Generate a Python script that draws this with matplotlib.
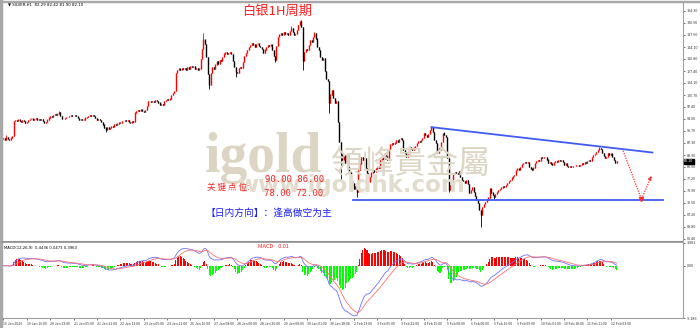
import matplotlib
matplotlib.use('Agg')
import matplotlib.pyplot as plt
import numpy as np
import pandas as pd

plt.rcParams['font.family'] = ['Noto Sans CJK SC', 'DejaVu Sans']

# ---------------- data ----------------
closes = [
    88.6, 88.1, 89.0, 88.4, 88.0, 88.8, 89.2, 93.5, 93.7, 93.3,
    93.8, 93.5, 93.2, 93.6, 93.3, 93.0, 93.2, 93.6, 93.9, 94.1,
    93.7, 93.9, 94.2, 93.8, 94.0, 93.6, 93.9, 93.4, 93.0, 93.2,
    93.8, 94.4, 94.8, 94.6, 95.0, 95.3, 95.1, 95.5, 95.9, 94.8,
    94.0, 93.9, 94.3, 94.6, 94.5, 94.9, 95.0, 94.7, 94.9, 95.1,
    94.8, 94.2, 93.7, 93.9, 93.6, 93.8, 94.4, 94.6, 94.9, 95.0,
    94.7, 95.0, 94.8, 94.2, 93.7, 93.9, 93.6, 93.2, 92.4, 91.6,
    90.9, 91.8, 91.2, 91.5, 92.0, 91.8, 92.5, 92.3, 92.7, 93.0,
    92.8, 93.3, 93.5, 93.7, 93.4, 93.6, 93.2, 93.0, 93.4, 93.2,
    95.8, 96.2, 96.5, 96.3, 96.6, 96.2, 96.0, 96.4, 97.5, 98.9,
    99.1, 98.7, 99.0, 98.8, 99.2, 98.9, 98.6, 97.9, 98.1, 97.8,
    99.0, 99.3, 99.6, 99.4, 99.7, 100.6, 101.2, 101.9, 106.9, 107.6,
    108.1, 107.7, 108.3, 107.9, 108.2, 107.8, 108.4, 108.0, 108.7, 108.5,
    108.8, 108.0, 108.3, 107.7, 108.1, 110.8, 113.5, 116.2, 115.0, 111.3,
    106.5, 103.5, 106.8, 108.6, 108.0, 109.2, 110.1, 109.5, 110.5, 110.2,
    111.4, 112.3, 112.6, 112.1, 112.5, 112.8, 112.2, 110.3, 108.5, 107.2,
    106.8, 108.2, 108.6, 108.3, 109.8, 111.6, 112.4, 113.3, 114.0, 114.7,
    115.3, 114.8, 114.2, 114.9, 115.1, 114.5, 114.0, 113.6, 112.5, 113.4,
    114.0, 114.6, 114.4, 114.8, 113.2, 111.5, 110.6, 114.5, 117.0, 117.6,
    118.0, 117.4, 118.3, 117.8, 118.1, 117.5, 118.6, 119.5, 118.2, 117.5,
    117.8, 118.9, 120.2, 121.3, 119.6, 110.2, 112.8, 113.5, 113.2, 114.6,
    116.0, 115.6, 116.8, 118.0, 116.5, 114.2, 113.3, 111.2, 110.5, 111.0,
    107.5, 105.2, 104.6, 98.6, 100.8, 102.1, 99.8, 98.6, 98.9, 93.2,
    87.5, 84.3, 82.4, 83.8, 81.6, 84.0, 80.6, 79.2, 77.0, 76.1,
    74.4, 75.2, 73.6, 79.7, 81.5, 83.3, 82.6, 83.0, 80.2, 78.9,
    76.4, 77.8, 79.0, 79.6, 79.2, 80.1, 80.6, 80.2, 82.4, 83.3,
    82.8, 84.5, 83.6, 82.5, 85.6, 86.8, 87.3, 86.9, 87.4, 88.1,
    87.6, 88.3, 88.6, 88.0, 85.3, 84.6, 83.3, 84.0, 86.1, 85.6,
    85.3, 86.0, 86.3, 87.3, 87.8, 87.5, 88.1, 88.6, 90.1, 89.4,
    88.9, 89.8, 90.8, 91.6, 90.4, 88.0, 87.3, 84.5, 85.8, 85.3,
    87.6, 90.1, 89.5, 88.9, 83.0, 74.1, 75.5, 77.0, 78.6, 79.2,
    78.8, 78.5, 79.4, 77.8, 77.0, 76.5, 76.1, 76.9, 75.8, 73.3,
    74.2, 75.0, 73.6, 72.5, 71.3, 70.5, 68.5, 67.1, 69.4, 70.2,
    70.8, 71.3, 72.0, 74.5, 73.4, 72.6, 72.2, 73.0, 73.6, 74.0,
    74.4, 74.8, 75.2, 74.9, 75.6, 76.0, 76.6, 77.0, 77.6, 78.0,
    78.4, 79.7, 80.1, 79.8, 80.6, 81.3, 81.7, 82.0, 81.6, 82.0,
    80.6, 80.1, 79.7, 80.4, 81.7, 82.1, 82.5, 82.2, 83.3, 83.0,
    83.4, 83.3, 82.6, 81.7, 82.0, 81.5, 81.2, 81.9, 82.3, 82.0,
    82.5, 82.2, 82.4, 82.0, 81.2, 81.5, 80.9, 80.6, 80.8, 80.6,
    80.9, 80.7, 81.0, 81.2, 80.9, 81.2, 81.7, 81.5, 82.0, 81.8,
    82.2, 82.5, 82.3, 83.3, 83.8, 84.2, 84.8, 85.3, 85.9, 85.6,
    84.5, 83.6, 83.0, 83.4, 84.5, 84.0, 84.3, 83.3, 82.5, 81.7,
    82.1,
]
first_open = 88.3
# notable wicks (bar index -> extreme price)
wick_high = {2: 89.6, 38: 96.3, 137: 118.1, 197: 120.0, 204: 121.8,
             213: 118.4, 293: 91.9, 302: 90.4, 408: 86.2}
wick_low = {70: 90.4, 141: 102.3, 159: 105.7, 186: 110.0, 205: 107.7,
            223: 95.7, 231: 76.9, 242: 72.2, 250: 75.8, 305: 73.6,
            327: 63.8, 336: 71.6}

y_ticks = [60.40, 63.80, 67.20, 70.50, 73.90, 77.20, 80.60, 83.90, 87.30, 90.70,
           94.00, 97.40, 100.70, 104.10, 107.40, 110.80, 114.10, 117.50, 120.90, 124.30]
x_labels = ['16 Jan 2026', '19 Jan 16:00', '20 Jan 13:00', '21 Jan 05:00', '21 Jan 21:00',
            '22 Jan 13:00', '23 Jan 05:00', '23 Jan 21:00', '26 Jan 16:00', '27 Jan 08:00',
            '28 Jan 00:00', '28 Jan 16:00', '29 Jan 08:00', '30 Jan 01:00', '30 Jan 18:00',
            '2 Feb 13:00', '3 Feb 05:00', '3 Feb 22:00', '4 Feb 15:00', '5 Feb 08:00',
            '6 Feb 00:00', '6 Feb 16:00', '9 Feb 09:00', '10 Feb 01:00', '10 Feb 18:00',
            '11 Feb 11:00', '12 Feb 03:00']
label_step = 16

upper_line_x = [293.2, 444.5]
upper_line_y = [91.7, 84.6]
lower_line_x = [239.5, 451.8]
lower_line_y = [71.3, 71.3]
forecast_x = [424.4, 437.0, 443.8]
forecast_y = [85.1, 71.5, 78.0]

macd_ylim = (-9.186, 3.981)
price_ylim = (59.84, 126.45)

# ---------------- computations ----------------
c = np.array(closes)
o = np.concatenate([[first_open], c[:-1]])
hi = np.maximum(o, c)
lo = np.minimum(o, c)
for k, v in wick_high.items():
    hi[k] = max(hi[k], v)
for k, v in wick_low.items():
    lo[k] = min(lo[k], v)
n = len(c)
idx = np.arange(n)

s = pd.Series(c)
dif = s.ewm(span=12, adjust=False).mean() - s.ewm(span=26, adjust=False).mean()
dea = dif.ewm(span=9, adjust=False).mean()
hist = (dif - dea) * 2

# ---------------- figure ----------------
W, H = 700, 328
fig = plt.figure(figsize=(W / 100, H / 100), dpi=100)
fig.patch.set_facecolor('white')

def fx(px):
    return px / W

def fy(py):
    return 1 - py / H

ax = fig.add_axes([fx(2), fy(241), fx(683) - fx(2), fy(3) - fy(241)])
ax2 = fig.add_axes([fx(2), fy(318), fx(683) - fx(2), fy(243) - fy(318)])

bar_px = 1.46
xmin = -1
xmax = xmin + 681 / bar_px
for a in (ax, ax2):
    a.set_xlim(xmin, xmax)
    a.set_facecolor('white')
    for sp in a.spines.values():
        sp.set_color('#a0a0a0')
        sp.set_linewidth(0.8)
    a.spines['left'].set_visible(False)
    a.spines['top'].set_visible(False)

ax.set_ylim(*price_ylim)
ax2.set_ylim(*macd_ylim)

# watermark
fig.text(fx(205), fy(172), 'igold', fontsize=40, fontweight='bold',
         family='Liberation Serif', color='#ddd5c3', ha='left', va='baseline', zorder=0)
fig.text(fx(331), fy(173), '領峰貴金屬', fontsize=23,
         family=['Noto Sans CJK TC'], color='#ddd5c3', ha='left', va='baseline', zorder=0)
fig.text(fx(237), fy(192), 'www.igoldhk.com', fontsize=16.5, fontweight='bold',
         family='DejaVu Sans', color='#e3dccd', ha='left', va='baseline', zorder=0)

# candles
up = c >= o
for mask, col in ((up, '#ff0000'), (~up, '#000000')):
    ax.vlines(idx[mask], lo[mask], hi[mask], color=col, linewidth=0.6, zorder=3)
    ax.vlines(idx[mask], np.minimum(o, c)[mask], np.maximum(o, c)[mask] + 0.05,
              color=col, linewidth=1.0, zorder=3)

# trend lines
ax.plot(upper_line_x, upper_line_y, color='#3f5cf5', linewidth=1.3, zorder=4)
ax.plot(lower_line_x, lower_line_y, color='#3f5cf5', linewidth=1.3, zorder=4)
ax.plot(forecast_x, forecast_y, color='#ff3030', linewidth=0.9, linestyle=(0, (1, 1)), zorder=5)
ax.annotate('', xy=(forecast_x[-1], forecast_y[-1]),
            xytext=(forecast_x[-1] - 1.2, forecast_y[-1] - 1.0),
            arrowprops=dict(arrowstyle='-|>', color='#ff3030', lw=0.8, mutation_scale=5), zorder=5)
ax.plot([forecast_x[1]], [forecast_y[1]], marker='v', color='#ff3030', markersize=3, zorder=5)

# texts
fig.text(fx(277), fy(11), '白银1H周期', fontsize=9.5, color='#ff2020', ha='center', va='center')
fig.text(fx(207), fy(187), '关 键 点 位:', fontsize=6.2, color='#ff2020', ha='left', va='center')
fig.text(fx(265), fy(179), '90.00 86.00', fontsize=6.5, color='#ff2020', ha='left', va='center',
         family='DejaVu Sans Mono')
fig.text(fx(264), fy(194), '78.00 72.00', fontsize=6.5, color='#ff2020', ha='left', va='center',
         family='DejaVu Sans Mono')
fig.text(fx(205), fy(213), '【日内方向】：逢高做空为主', fontsize=7, color='#2020ff',
         ha='left', va='center')

fig.text(fx(8), fy(5), '\u25bc SILVER,H1  82.29 82.42 81.90 82.10', fontsize=2.8,
         color='#000000', ha='left', va='center', family='DejaVu Sans')

# price y axis
ax.yaxis.tick_right()
ax.set_yticks(y_ticks)
ax.set_yticklabels(['%.2f' % v for v in y_ticks], fontsize=2.7)
ax.tick_params(axis='y', length=1.5, width=0.5, pad=1.2, colors='#333333')
ax.set_xticks([])

# current price box
last = c[-1]
ax.text(1.002, (last - price_ylim[0]) / (price_ylim[1] - price_ylim[0]), '%.2f' % last,
        transform=ax.transAxes, fontsize=2.7, color='white', ha='left', va='center',
        bbox=dict(boxstyle='square,pad=0.2', fc='black', ec='black'))

# MACD panel
pos = hist.values >= 0
ax2.bar(idx[pos], hist.values[pos], width=0.7, color='#ff0000', linewidth=0)
ax2.bar(idx[~pos], hist.values[~pos], width=0.7, color='#00ff00', linewidth=0)
ax2.plot(idx, dif.values, color='#6f6fff', linewidth=0.6)
ax2.plot(idx, dea.values, color='#ff7070', linewidth=0.6)
ax2.yaxis.tick_right()
ax2.set_yticks([macd_ylim[1], 0.0, macd_ylim[0]])
ax2.set_yticklabels(['3.981', '0.00', '-9.186'], fontsize=2.7)
ax2.tick_params(axis='y', length=1.5, width=0.5, pad=1.2, colors='#333333')
ax2.text(0.003, 0.965, 'MACD(12,26,9)  0.4436 0.0473 0.3963', transform=ax2.transAxes,
         fontsize=2.7, ha='left', va='top', family='DejaVu Sans')
fig.text(fx(258), fy(246), 'MACD    0.01', fontsize=4, color='#ff2020', ha='left', va='center')

xt = [k * label_step for k in range(len(x_labels))]
ax2.set_xticks(xt)
ax2.set_xticklabels(x_labels, fontsize=2.5, ha='left')
ax2.tick_params(axis='x', length=1.5, width=0.5, pad=1.2, colors='#333333')

# gray frame on the left/top like terminal window
fig.add_artist(plt.Rectangle((0, 0), fx(2), 1, transform=fig.transFigure, color='#a8a8a8'))
fig.add_artist(plt.Rectangle((0, fy(2)), 1, fx(2), transform=fig.transFigure, color='#a8a8a8'))
fig.add_artist(plt.Line2D([fx(2), fx(683)], [fy(242), fy(242)], transform=fig.transFigure,
                          color='#909090', linewidth=1.2))

fig.savefig('out.png', dpi=100)
